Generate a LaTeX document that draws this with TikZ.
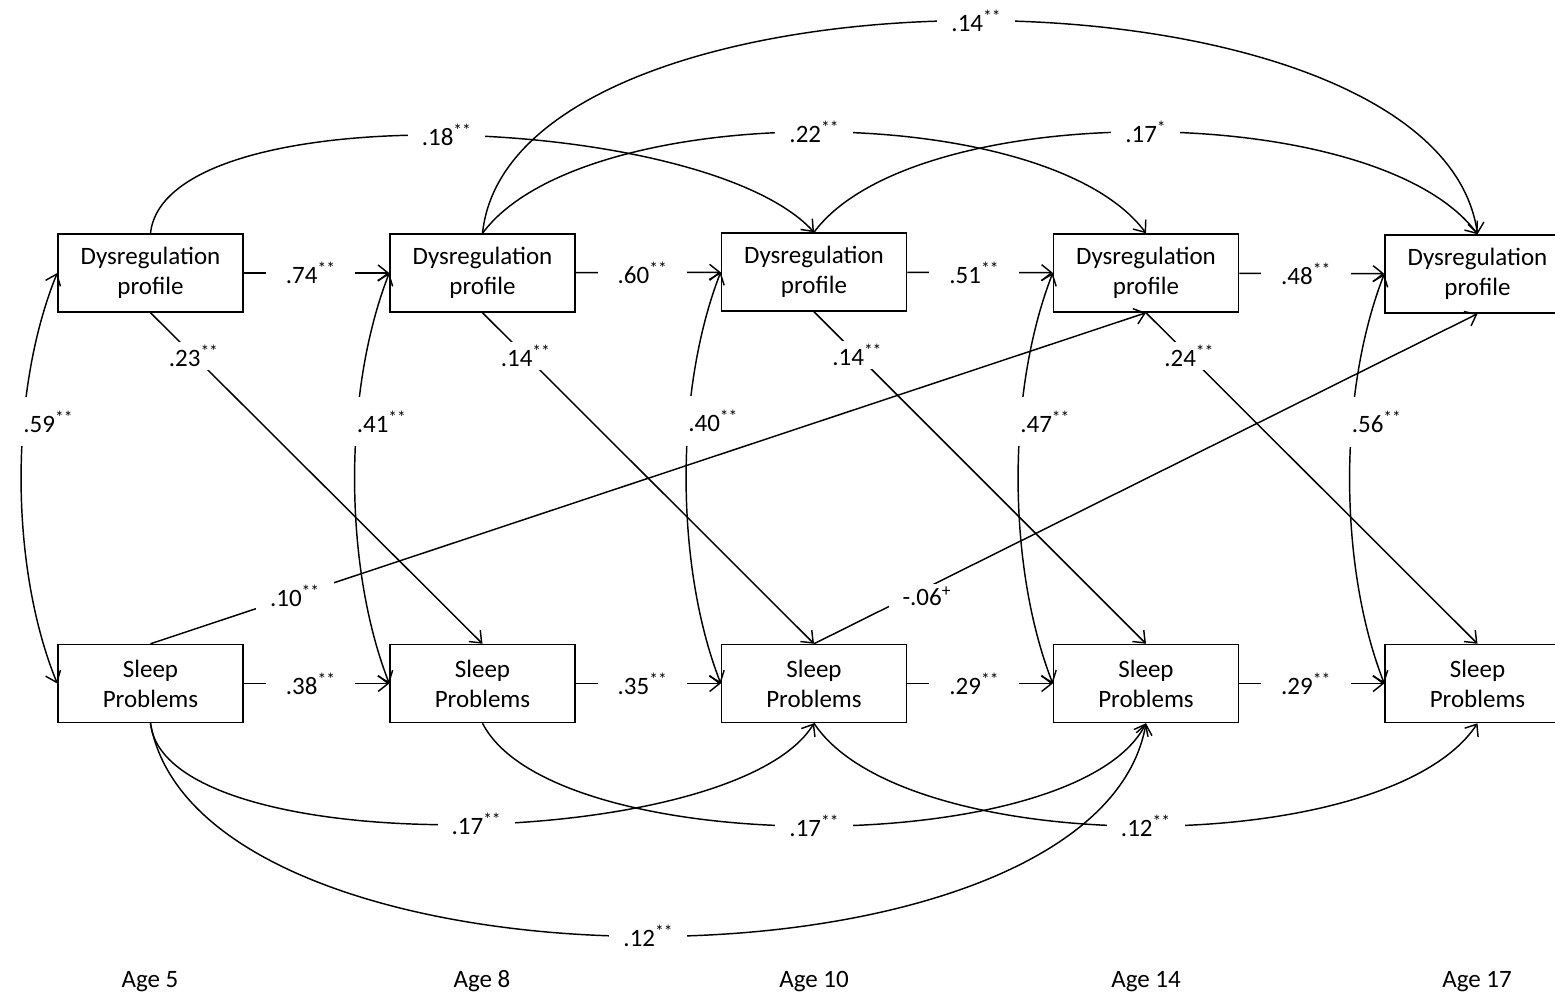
\documentclass[tikz,border=0pt]{standalone}
\usepackage{fontspec}
\setmainfont{Carlito}
\usetikzlibrary{arrows.meta}
\newcommand{\sigtwo}{\textsuperscript{**}}
\newcommand{\sigone}{\textsuperscript{*}}
\newcommand{\sigplus}{\textsuperscript{+}}
\begin{document}
\begin{tikzpicture}[x=1pt,y=-1pt,
  font=\fontsize{25}{30}\selectfont,
  box/.style={draw, line width=1.5pt, minimum width=185pt, minimum height=78pt, align=center, inner sep=0pt},
  arr/.style={line width=1.45pt, -{Straight Barb[length=10pt,width=16pt]}},
  dbl/.style={line width=1.45pt, {Straight Barb[length=10pt,width=16pt]}-{Straight Barb[length=10pt,width=16pt]}},
  lab/.style={fill=white, inner xsep=14pt, inner ysep=3pt},
  hlab/.style={fill=white, inner xsep=20pt, inner ysep=3pt, pos=0.46},
  vlab/.style={fill=white, inner xsep=3pt, inner ysep=14pt, anchor=west, xshift=-4pt},
  age/.style={inner sep=0pt, anchor=base}]
\useasboundingbox (0,0) rectangle (1555,996);
\clip (0,0) rectangle (1555,996);
\fill[white] (0,0) rectangle (1555,996);

% top row
\node[box] (D1) at (150.5,273) {Dysregulation\\profile};
\node[box] (D2) at (482.5,273) {Dysregulation\\profile};
\node[box] (D3) at (814,272) {Dysregulation\\profile};
\node[box] (D4) at (1146,273) {Dysregulation\\profile};
\node[box] (D5) at (1477.5,274) {Dysregulation\\profile};
% bottom row
\node[box] (S1) at (150.5,683.5) {Sleep\\Problems};
\node[box] (S2) at (482.5,683.5) {Sleep\\Problems};
\node[box] (S3) at (814,683.5) {Sleep\\Problems};
\node[box] (S4) at (1146,683.5) {Sleep\\Problems};
\node[box] (S5) at (1477.5,683.5) {Sleep\\Problems};

% horizontal paths
\draw[arr] (D1) -- node[hlab] (h1) {.74\sigtwo} (D2);
\draw[arr] (D2) -- node[hlab] (h2) {.60\sigtwo} (D3);
\draw[arr] (D3) -- node[hlab] (h3) {.51\sigtwo} (D4);
\draw[arr] (D4) -- node[hlab] (h4) {.48\sigtwo} (D5);
\draw[arr] (S1) -- node[hlab] (h5) {.38\sigtwo} (S2);
\draw[arr] (S2) -- node[hlab] (h6) {.35\sigtwo} (S3);
\draw[arr] (S3) -- node[hlab] (h7) {.29\sigtwo} (S4);
\draw[arr] (S4) -- node[hlab] (h8) {.29\sigtwo} (S5);

% correlations
\draw[dbl] (D1.west) .. controls +(-48,118) and +(-48,-118) .. node[vlab,pos=0.37] (c1) {.59\sigtwo} (S1.west);
\draw[dbl] (D2.west) .. controls +(-46,118) and +(-46,-118) .. node[vlab,pos=0.37] (c2) {.41\sigtwo} (S2.west);
\draw[dbl] (D3.west) .. controls +(-46,118) and +(-46,-118) .. node[vlab,pos=0.37] (c3) {.40\sigtwo} (S3.west);
\draw[dbl] (D4.west) .. controls +(-46,118) and +(-46,-118) .. node[vlab,pos=0.37] (c4) {.47\sigtwo} (S4.west);
\draw[dbl] (D5.west) .. controls +(-46,118) and +(-46,-118) .. node[vlab,pos=0.37] (c5) {.56\sigtwo} (S5.west);

% cross-lagged dysregulation -> sleep
\draw[arr] (D1.south) -- node[lab,pos=0.13] (x1) {.23\sigtwo} (S2.north);
\draw[arr] (D2.south) -- node[lab,pos=0.13] (x2) {.14\sigtwo} (S3.north);
\draw[arr] (D3.south) -- node[lab,pos=0.13] (x3) {.14\sigtwo} (S4.north);
\draw[arr] (D4.south) -- node[lab,pos=0.13] (x4) {.24\sigtwo} (S5.north);
% sleep -> dysregulation
\draw[arr] (S1.north) -- node[lab,pos=0.145] (x5) {.10\sigtwo} (D4.south);
\draw[arr] (S3.north) -- node[lab,pos=0.17,yshift=-9pt] (x6) {-.06\sigplus} (D5.south);

% top lag-2 arcs
\draw[arr] (D1.north) .. controls +(15,-140) and +(-110,-120) .. node[lab] (t1) {.18\sigtwo} (D3.north);
\draw[arr] (D2.north) .. controls +(100,-135) and +(-100,-135) .. node[lab] (t2) {.22\sigtwo} (D4.north);
\draw[arr] (D3.north) .. controls +(100,-135) and +(-100,-135) .. node[lab] (t3) {.17\sigone} (D5.north);
\draw[arr] (D2.north) .. controls +(30,-284) and +(-40,-284) .. node[lab] (t4) {.14\sigtwo} (D5.north);

% bottom lag-2 arcs
\draw[arr] (S1.south) .. controls +(15,140) and +(-80,130) .. node[lab,pos=0.52] (b1) {.17\sigtwo} (S3.south);
\draw[arr] (S2.south) .. controls +(70,137) and +(-70,137) .. node[lab] (b2) {.17\sigtwo} (S4.south);
\draw[arr] (S3.south) .. controls +(90,137) and +(-90,137) .. node[lab] (b3) {.12\sigtwo} (S5.south);
\draw[arr] (S1.south) .. controls +(50,284) and +(-50,284) .. node[lab] (b4) {.12\sigtwo} (S4.south);

% ages
\node[age] (a1) at (150,987) {Age 5};
\node[age] (a2) at (482,987) {Age 8};
\node[age] (a3) at (814,987) {Age 10};
\node[age] (a4) at (1146,987) {Age 14};
\node[age] (a5) at (1477,987) {Age 17};
\end{tikzpicture}
\end{document}
